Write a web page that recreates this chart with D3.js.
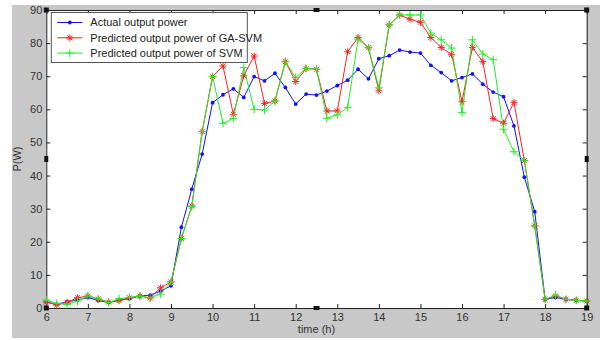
<!DOCTYPE html>
<html>
<head>
<meta charset="utf-8">
<script src="https://cdn.jsdelivr.net/npm/d3@7"></script>
<style>
  body { margin: 0; background: #fff; }
  svg { display: block; font-family: "Liberation Sans", Arial, sans-serif; }
</style>
</head>
<body>
<div id="chart"></div>
<script>
// ************************** data **************************
const times = [
  6, 6.25, 6.5, 6.75, 7, 7.25, 7.5, 7.75, 8, 8.25, 8.5, 8.75,
  9, 9.25, 9.5, 9.75, 10, 10.25, 10.5, 10.75, 11, 11.25, 11.5, 11.75,
  12, 12.25, 12.5, 12.75, 13, 13.25, 13.5, 13.75, 14, 14.25, 14.5, 14.75,
  15, 15.25, 15.5, 15.75, 16, 16.25, 16.5, 16.75, 17, 17.25, 17.5, 17.75,
  18, 18.25, 18.5, 18.75, 19,
];

const actualPower = [
  1.8, 1.1, 1.9, 2.4, 3.2, 2.2, 1.7, 2.4, 2.8, 3.6, 3.9, 5.1,
  6.7, 24.4, 35.9, 46.5, 62, 64.4, 66.2, 63.6, 69.9, 68.6, 70.9, 66.6,
  61.6, 64.6, 64.3, 65.5, 67.2, 68.8, 72.1, 69.2, 75.3, 76.2, 77.9, 77.3,
  77, 73.3, 71.1, 68.6, 69.6, 70.7, 67.6, 65.2, 63.8, 55, 39.5, 29.1,
  2.6, 3.2, 2.6, 2.3, 2.1,
];

const gaSvmPower = [
  1.8, 0.9, 1.7, 3.1, 3.6, 2.7, 1.8, 2.2, 3.1, 3.6, 3.0, 6.1,
  7.9, 21, 30.8, 53.3, 69.9, 73.1, 58.5, 70.1, 76.1, 61.8, 62.5, 74.4,
  68.4, 72.3, 72.1, 59.5, 59.5, 77.4, 81.7, 78.6, 65.6, 85.5, 88.5, 87.2,
  86.3, 81.7, 78.7, 76.6, 62.3, 78.7, 74.4, 57.2, 55.8, 62.1, 44.5, 24.8,
  2.6, 3.6, 2.6, 2.3, 2.1,
];

const svmPower = [
  2.4, 1.4, 1.1, 2.1, 3.6, 2.8, 1.6, 2.8, 3.2, 3.6, 3.1, 4.2,
  7.9, 21, 30.6, 53.3, 69.9, 55.8, 57.3, 72.6, 60, 59.8, 62.5, 74.4,
  69.6, 72.4, 72.1, 57.3, 58.3, 60.6, 81.2, 78.6, 66.5, 85.5, 88.5, 88.5,
  88.5, 83, 81, 78.5, 59, 81, 76.7, 75, 54, 47.2, 44.5, 24.8,
  2.6, 3.9, 2.6, 2.3, 2.1,
];

const seriesNames = [
  "Actual output power",
  "Predicted output power of GA-SVM",
  "Predicted output power of SVM",
];
const seriesColors = ["#1010ff", "#ff2020", "#20ee20"];
const seriesMarkers = ["dot", "star", "plus"];

const xTicks = [6, 7, 8, 9, 10, 11, 12, 13, 14, 15, 16, 17, 18, 19];
const yTicks = [0, 10, 20, 30, 40, 50, 60, 70, 80, 90];

// ************************** chart **************************
function render_power(
  series,
  {
    width = 600,
    height = 340,
    marginTop = 10,
    marginRight = 13,
    marginBottom = 32,
    marginLeft = 46,
    xLabel = "time (h)",
    yLabel = "P(W)",
  } = {}
) {
  const xScale = d3.scaleLinear([6, 19], [marginLeft + 0.3, width - marginRight - 0.3]);
  const yScale = d3.scaleLinear([0, 90], [height - marginBottom, marginTop]);
  const [x0, x1] = xScale.range();
  const [y0, y1] = yScale.range();

  const svg_holder = d3
    .create("svg")
    .attr("width", width)
    .attr("height", height);

  // gray figure background
  svg_holder
    .append("rect")
    .attr("x", 12)
    .attr("y", 5)
    .attr("width", width - 12)
    .attr("height", height - 7)
    .attr("fill", "#c8c8c8");

  // white axes area
  svg_holder
    .append("rect")
    .attr("x", x0)
    .attr("y", y1)
    .attr("width", x1 - x0)
    .attr("height", y0 - y1)
    .attr("fill", "#fff");

  // axes, ticks inside like matlab
  const tickColor = "#222";
  const labelColor = "#333";
  svg_holder
    .append("g")
    .attr("transform", `translate(0,${y0})`)
    .call(d3.axisBottom(xScale).tickValues(xTicks).tickSize(-4).tickPadding(5).tickSizeOuter(0))
    .call((g) => g.selectAll("line, path").attr("stroke", tickColor))
    .call((g) => g.selectAll("text").attr("fill", labelColor).attr("font-size", 11));
  svg_holder
    .append("g")
    .attr("transform", `translate(0,${y1})`)
    .call(d3.axisTop(xScale).tickValues(xTicks).tickSize(-4).tickSizeOuter(0).tickFormat(""))
    .call((g) => g.selectAll("line, path").attr("stroke", tickColor));
  svg_holder
    .append("g")
    .attr("transform", `translate(${x0},0)`)
    .call(d3.axisLeft(yScale).tickValues(yTicks).tickSize(-4).tickPadding(4).tickSizeOuter(0))
    .call((g) => g.selectAll("line, path").attr("stroke", tickColor))
    .call((g) => g.selectAll("text").attr("fill", labelColor).attr("font-size", 11));
  svg_holder
    .append("g")
    .attr("transform", `translate(${x1},0)`)
    .call(d3.axisRight(yScale).tickValues(yTicks).tickSize(-4).tickSizeOuter(0).tickFormat(""))
    .call((g) => g.selectAll("line, path").attr("stroke", tickColor));

  // axis labels
  svg_holder
    .append("text")
    .attr("x", (x0 + x1) / 2)
    .attr("y", height - 7)
    .attr("text-anchor", "middle")
    .attr("font-size", 11)
    .attr("fill", labelColor)
    .text(xLabel);
  svg_holder
    .append("text")
    .attr("transform", `translate(21,${(y0 + y1) / 2}) rotate(-90)`)
    .attr("text-anchor", "middle")
    .attr("font-size", 11)
    .attr("fill", labelColor)
    .text(yLabel);

  // marker shapes
  const marker = (g, type, color) => {
    if (type === "dot") {
      g.append("circle").attr("r", 1.9).attr("fill", color);
    } else {
      const s = type === "star" ? 3.5 : 4;
      let d = `M${-s},0H${s}M0,${-s}V${s}`;
      if (type === "star") d += `M${-s * 0.7},${-s * 0.7}L${s * 0.7},${s * 0.7}M${-s * 0.7},${s * 0.7}L${s * 0.7},${-s * 0.7}`;
      g.append("path").attr("d", d).attr("stroke", color).attr("stroke-width", 1).attr("fill", "none");
    }
  };

  const line = d3
    .line()
    .x((d) => xScale(d[0]))
    .y((d) => yScale(d[1]));

  series.forEach((s) => {
    const pts = d3.zip(times, s.values);
    svg_holder
      .append("path")
      .attr("d", line(pts))
      .attr("fill", "none")
      .attr("stroke", s.color)
      .attr("stroke-width", 1);
    svg_holder
      .append("g")
      .selectAll("g")
      .data(pts)
      .join("g")
      .attr("transform", (d) => `translate(${xScale(d[0])},${yScale(d[1])})`)
      .each(function () {
        marker(d3.select(this), s.marker, s.color);
      });
  });

  // legend
  const legend = svg_holder.append("g").attr("transform", `translate(${x0 + 5},${y1 + 2.5})`);
  legend
    .append("rect")
    .attr("width", 196)
    .attr("height", 50)
    .attr("fill", "#fff")
    .attr("stroke", "#555")
    .attr("stroke-width", 1);
  const item = legend
    .selectAll("g")
    .data(series)
    .join("g")
    .attr("transform", (d, i) => `translate(0,${10 + i * 15.3})`);
  item
    .append("line")
    .attr("x1", 6)
    .attr("x2", 31)
    .attr("stroke", (d) => d.color);
  item.each(function (d) {
    const g = d3.select(this).append("g").attr("transform", "translate(18.5,0)");
    marker(g, d.marker, d.color);
  });
  item
    .append("text")
    .attr("x", 39)
    .attr("dy", "0.35em")
    .attr("font-size", 11)
    .attr("fill", "#222")
    .text((d) => d.name);

  // matlab edit handles (corners square, side ones elongated)
  const hx = [x0, (x0 + x1) / 2, x1];
  const hy = [y1, (y0 + y1) / 2, y0];
  const handles = [];
  hx.forEach((x, i) =>
    hy.forEach((y, j) => {
      if (i === 1 && j === 1) return;
      const w = i === 1 ? 6 : j === 1 ? 4 : 5;
      const h = j === 1 ? 6 : i === 1 ? 4 : 5;
      handles.push({ x, y, w, h });
    })
  );
  svg_holder
    .append("g")
    .selectAll("rect")
    .data(handles)
    .join("rect")
    .attr("x", (d) => d.x - d.w / 2)
    .attr("y", (d) => d.y - d.h / 2)
    .attr("width", (d) => d.w)
    .attr("height", (d) => d.h)
    .attr("fill", "#111");

  return svg_holder.node();
}

const data = seriesNames.map((name, i) => ({
  name,
  color: seriesColors[i],
  marker: seriesMarkers[i],
  values: [actualPower, gaSvmPower, svmPower][i],
}));

const svg_power = render_power(data);
d3.select("#chart").node().appendChild(svg_power);
</script>
</body>
</html>
